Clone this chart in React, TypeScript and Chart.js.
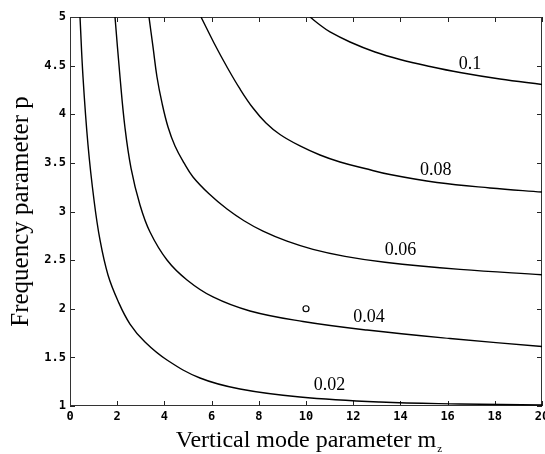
import React, { useEffect, useRef } from 'react';
import { Chart, registerables } from 'chart.js';

Chart.register(...registerables);

// Contour curves (m_z, p)
const curve002M = [0.424, 0.551, 0.763, 1.017, 1.271, 1.61, 2.034, 2.542, 3.178, 4.11, 5.508, 7.203, 9.746, 13.136, 16.525, 20.0];
const curve002P = [5.0, 4.383, 3.684, 3.118, 2.707, 2.347, 2.08, 1.843, 1.658, 1.473, 1.288, 1.175, 1.093, 1.041, 1.021, 1.01];

const curve004M = [1.907, 2.119, 2.331, 2.585, 2.966, 3.39, 4.11, 4.958, 6.059, 7.627, 9.873, 12.585, 16.102, 20.0];
const curve004P = [5.0, 4.383, 3.859, 3.447, 3.067, 2.789, 2.501, 2.296, 2.121, 1.977, 1.869, 1.781, 1.694, 1.612];

const curve006M = [3.347, 3.517, 3.686, 3.898, 4.153, 4.449, 4.831, 5.212, 5.89, 6.653, 7.373, 8.178, 9.195, 10.297, 11.653, 13.347, 16.525, 20.0];
const curve006P = [5.0, 4.692, 4.383, 4.116, 3.869, 3.674, 3.499, 3.355, 3.182, 3.025, 2.905, 2.798, 2.695, 2.611, 2.539, 2.478, 2.405, 2.35];

const curve008M = [5.551, 6.102, 6.653, 7.203, 7.754, 8.305, 8.898, 9.746, 10.593, 11.441, 12.5, 13.559, 15.551, 17.797, 20.0];
const curve008P = [5.0, 4.733, 4.486, 4.26, 4.064, 3.91, 3.792, 3.674, 3.581, 3.509, 3.442, 3.38, 3.298, 3.242, 3.2];

const curve010M = [10.169, 10.593, 11.017, 11.864, 12.924, 13.983, 15.254, 16.525, 18.22, 20.0];
const curve010P = [5.0, 4.918, 4.846, 4.743, 4.64, 4.563, 4.491, 4.429, 4.362, 4.306];

const markerM = [10];
const markerP = [2];

const curveLabels = ['0.1', '0.08', '0.06', '0.04', '0.02'];
const curveLabelM = [16.95, 15.5, 14.0, 12.67, 11.0];
const curveLabelP = [4.51, 3.42, 2.6, 1.91, 1.21];

const xTickValues = [0, 2, 4, 6, 8, 10, 12, 14, 16, 18, 20];
const yTickValues = [1, 1.5, 2, 2.5, 3, 3.5, 4, 4.5, 5];

const xTitle = 'Vertical mode parameter m';
const xTitleSub = 'z';
const yTitle = 'Frequency parameter p';

const toPoints = (ms: number[], ps: number[]) => ms.map((m, i) => ({ x: m, y: ps[i] }));

const decorPlugin = {
  id: 'decor',
  beforeDatasetsDraw(chart: any) {
    const { ctx, chartArea: a, scales } = chart;
    const x = scales.x;
    const y = scales.y;
    ctx.save();
    ctx.strokeStyle = '#222';
    ctx.lineWidth = 1;
    ctx.beginPath();
    xTickValues.forEach((v) => {
      const px = Math.round(x.getPixelForValue(v)) + 0.5;
      ctx.moveTo(px, a.bottom);
      ctx.lineTo(px, a.bottom - 5);
      ctx.moveTo(px, a.top);
      ctx.lineTo(px, a.top + 5);
    });
    yTickValues.forEach((v) => {
      const py = Math.round(y.getPixelForValue(v)) + 0.5;
      ctx.moveTo(a.left, py);
      ctx.lineTo(a.left + 5, py);
      ctx.moveTo(a.right, py);
      ctx.lineTo(a.right - 5, py);
    });
    ctx.stroke();
    ctx.strokeStyle = '#333';
    ctx.strokeRect(a.left + 0.5, a.top + 0.5, a.right - a.left - 1, a.bottom - a.top - 1);
    ctx.restore();
  },
  afterDatasetsDraw(chart: any) {
    const { ctx, scales } = chart;
    ctx.save();
    ctx.fillStyle = '#000';
    ctx.font = '18px "Liberation Serif"';
    ctx.textAlign = 'center';
    ctx.textBaseline = 'middle';
    curveLabels.forEach((t, i) => {
      ctx.fillText(t, scales.x.getPixelForValue(curveLabelM[i]), scales.y.getPixelForValue(curveLabelP[i]));
    });
    ctx.restore();
  },
  afterDraw(chart: any) {
    const { ctx, scales } = chart;
    const x = scales.x;
    ctx.save();
    ctx.font = '24px "Liberation Serif"';
    const w = ctx.measureText(xTitle).width;
    const cx = (x.left + x.right) / 2;
    ctx.font = '11px "Liberation Serif"';
    ctx.fillStyle = '#000';
    ctx.textAlign = 'left';
    ctx.textBaseline = 'alphabetic';
    ctx.fillText(xTitleSub, cx + w / 2 + 1, 452);
    ctx.restore();
  },
};

export default function App() {
  const canvasRef = useRef<HTMLCanvasElement | null>(null);

  useEffect(() => {
    if (!canvasRef.current) return;
    const lineStyle = {
      showLine: true,
      borderColor: '#000',
      borderWidth: 1.4,
      pointRadius: 0,
      tension: 0.4,
      fill: false,
    };
    const chart = new Chart(canvasRef.current, {
      type: 'scatter',
      data: {
        datasets: [
          { label: '0.02', data: toPoints(curve002M, curve002P), ...lineStyle },
          { label: '0.04', data: toPoints(curve004M, curve004P), ...lineStyle },
          { label: '0.06', data: toPoints(curve006M, curve006P), ...lineStyle },
          { label: '0.08', data: toPoints(curve008M, curve008P), ...lineStyle },
          { label: '0.1', data: toPoints(curve010M, curve010P), ...lineStyle },
          {
            label: 'point',
            data: toPoints(markerM, markerP),
            showLine: false,
            pointRadius: 3,
            pointBackgroundColor: '#fff',
            pointBorderColor: '#000',
            pointBorderWidth: 1.2,
          },
        ],
      },
      options: {
        animation: false,
        responsive: false,
        maintainAspectRatio: false,
        layout: { padding: { top: 17, right: 3, left: 0, bottom: 0 }, autoPadding: false },
        plugins: { legend: { display: false }, tooltip: { enabled: false } },
        scales: {
          x: {
            type: 'linear',
            min: 0,
            max: 20,
            afterBuildTicks: (s: any) => {
              s.ticks = xTickValues.map((v) => ({ value: v }));
            },
            afterFit: (s: any) => {
              s.height = 48;
              s.paddingLeft = 0;
              s.paddingRight = 0;
            },
            grid: { display: false, drawTicks: false },
            border: { display: false },
            ticks: {
              autoSkip: false,
              maxRotation: 0,
              padding: 4,
              color: '#000',
              font: { family: '"DejaVu Sans Mono"', size: 12, weight: 'bold' },
            },
            title: {
              display: true,
              text: xTitle,
              color: '#000',
              font: { family: '"Liberation Serif"', size: 24, lineHeight: 1 },
              padding: { top: 0, bottom: 1 },
            },
          },
          y: {
            type: 'linear',
            min: 1,
            max: 5,
            afterBuildTicks: (s: any) => {
              s.ticks = yTickValues.map((v) => ({ value: v }));
            },
            afterFit: (s: any) => {
              s.width = 70;
              s.paddingTop = 0;
              s.paddingBottom = 0;
            },
            grid: { display: false, drawTicks: false },
            border: { display: false },
            ticks: {
              padding: 4,
              color: '#000',
              font: { family: '"DejaVu Sans Mono"', size: 12, weight: 'bold' },
              callback: (v: any) => String(v),
            },
            title: {
              display: true,
              text: yTitle,
              color: '#000',
              font: { family: '"Liberation Serif"', size: 25, lineHeight: 1 },
              padding: { top: 9, bottom: 0 },
            },
          },
        },
      },
      plugins: [decorPlugin],
    } as any);
    return () => chart.destroy();
  }, []);

  return (
    <div style={{ position: 'fixed', left: 0, top: 0, width: 545, height: 454, background: '#fff' }}>
      <canvas ref={canvasRef} width={545} height={454} style={{ width: 545, height: 454, display: 'block' }} />
    </div>
  );
}
